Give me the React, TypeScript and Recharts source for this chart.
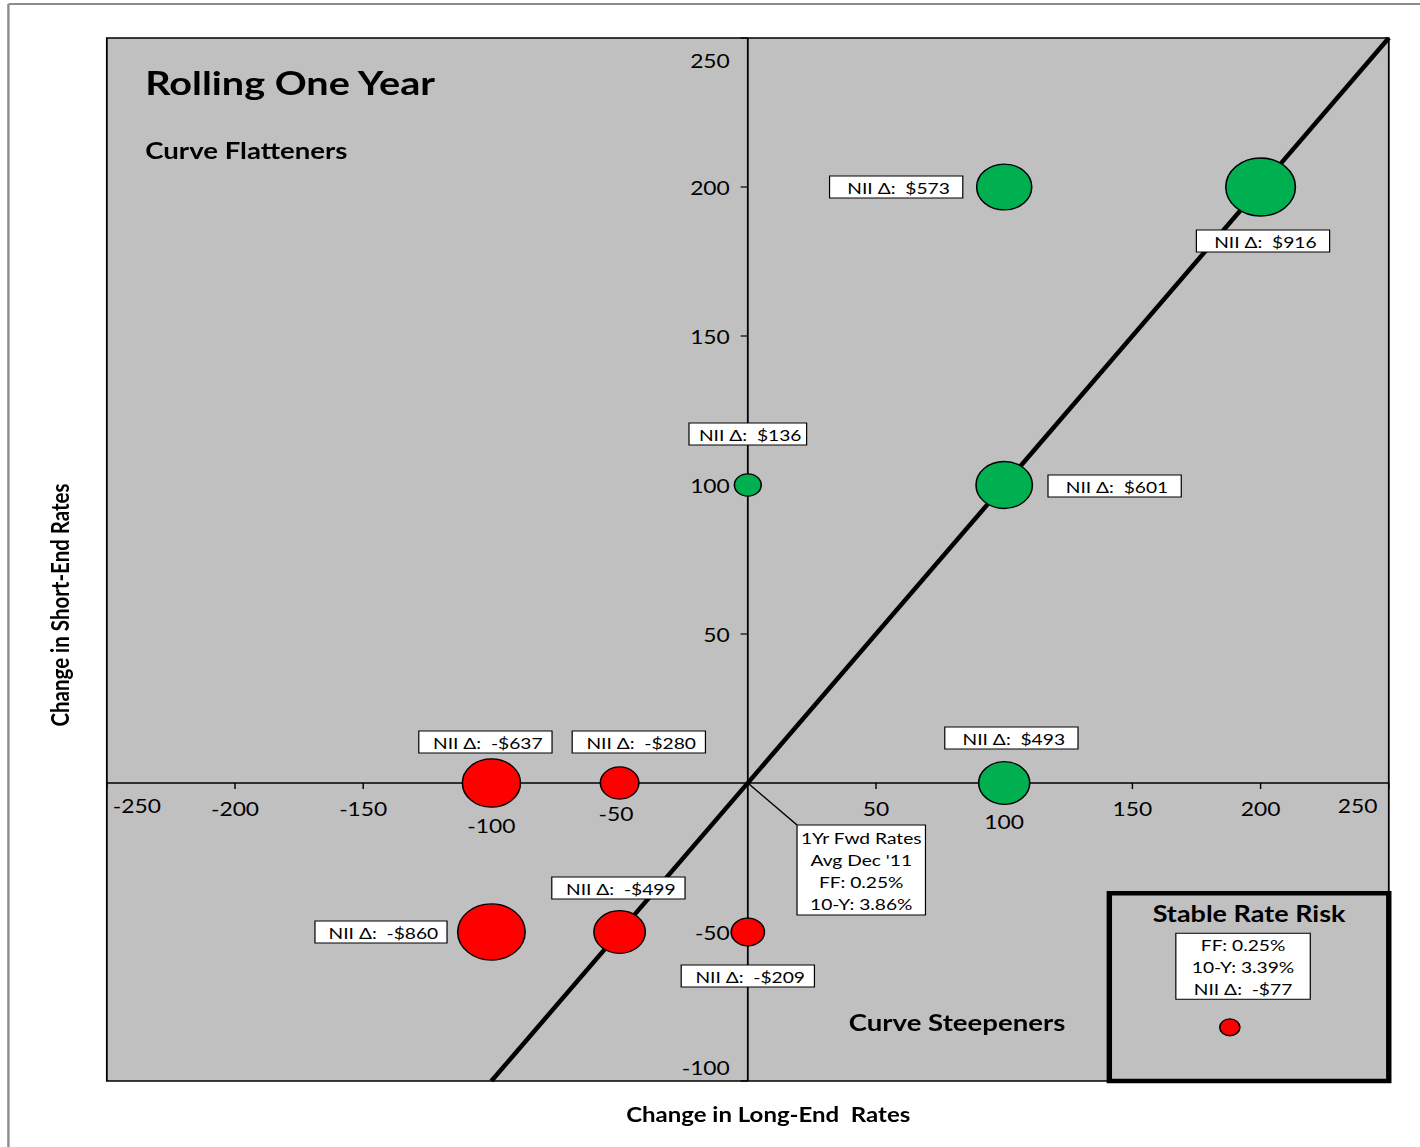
import React from 'react';
import {
  ScatterChart,
  Scatter,
  XAxis,
  YAxis,
  ZAxis,
  CartesianGrid,
  ReferenceLine,
  ReferenceDot,
  ReferenceArea,
} from 'recharts';

// scenario shifts (bp) and resulting NII change ($)
const longEndChange = [100, 200, 0, 100, 100, -100, -50, -100, -50, 0];
const shortEndChange = [200, 200, 100, 100, 0, 0, 0, -50, -50, -50];
const niiDelta = [573, 916, 136, 601, 493, -637, -280, -860, -499, -209];

// stable rate risk marker
const stableLong = [188];
const stableShort = [-82];
const stableNii = [-77];
const stableLines = ['FF: 0.25%', '10-Y: 3.39%', 'NII Δ:  -$77'];

const fwdLines = ['1Yr Fwd Rates', "Avg Dec '11", 'FF: 0.25%', '10-Y: 3.86%'];

const xTicks = [-250, -200, -150, -100, -50, 50, 100, 150, 200, 250];
const yTicks = [-100, -50, 50, 100, 150, 200, 250];
const parityEnds = [-100, 250];

// label placement (px from bubble centre), same order as niiDelta
const labelOffsets = [
  [-90, 0], [2, 54], [0, -51], [92, 1], [6, -45],
  [-5, -41], [16, -41], [-92, 0], [-1, -44], [0, 44],
];
const labelWidths = [111, 111, 98, 111, 111, 111, 111, 110, 111, 111];
const xTickNudge: Record<number, [number, number]> = {
  '-250': [25, -3], '250': [-26, -3], '-100': [0, 17], '-50': [-3, 5], '100': [0, 13],
} as any;
const yTickNudge: Record<number, number> = { '250': 22, '-100': -14 } as any;

const W = 1183;
const H = 1147;
const FONT = 'Lato, Carlito, Calibri, sans-serif';

const money = (v: number) => `${v < 0 ? '-$' : '$'}${Math.abs(v)}`;

const points = niiDelta.map((v, i) => ({
  x: longEndChange[i],
  y: shortEndChange[i],
  size: Math.abs(v),
  nii: v,
  i,
}));
const gains = points.filter(p => p.nii > 0);
const losses = points.filter(p => p.nii < 0);
const stable = stableNii.map((v, i) => ({ x: stableLong[i], y: stableShort[i], size: Math.abs(v), nii: v }));

const makeBubble = (fill: string, withLabel: boolean) => (p: any) => {
  const r = p.width ? p.width / 2 : Math.sqrt((p.size ?? 64) / Math.PI);
  const idx = p.payload?.i ?? p.i;
  const nii = p.payload?.nii ?? p.nii;
  let label = null;
  if (withLabel && idx !== undefined) {
    const [dx, dy] = labelOffsets[idx];
    const bw = labelWidths[idx];
    const bx = p.cx + dx;
    const by = p.cy + dy;
    label = (
      <g>
        <rect x={bx - bw / 2} y={by - 11} width={bw} height={22} fill="#fff" stroke="#000" strokeWidth={1} />
        <text
          x={bx + 2}
          y={by + 1}
          textAnchor="middle"
          dominantBaseline="central"
          fontSize={16}
          fontFamily={FONT}
          fill="#000"
          style={{ whiteSpace: 'pre' }}
        >
          {`NII Δ:  ${money(nii)}`}
        </text>
      </g>
    );
  }
  return (
    <g>
      <circle cx={p.cx} cy={p.cy} r={r} fill={fill} stroke="#000" strokeWidth={1.3} />
      {label}
    </g>
  );
};

const xTickShape = (v: number) => (p: any) => {
  const [nx, ny] = xTickNudge[v] ?? [0, 0];
  return (
    <g>
      <line x1={p.cx} y1={p.cy} x2={p.cx} y2={p.cy + 6} stroke="#000" strokeWidth={1.2} />
      <text x={p.cx + nx} y={p.cy + 25 + ny} textAnchor="middle" dominantBaseline="central" fontSize={19} fontFamily={FONT} fill="#000">
        {v}
      </text>
    </g>
  );
};

const yTickShape = (v: number) => (p: any) => (
  <g>
    <line x1={p.cx - 6} y1={p.cy} x2={p.cx} y2={p.cy} stroke="#000" strokeWidth={1.2} />
    <text x={p.cx - 15} y={p.cy + (yTickNudge[v] ?? 0)} textAnchor="end" dominantBaseline="central" fontSize={19} fontFamily={FONT} fill="#000">
      {v}
    </text>
  </g>
);

const fwdShape = (p: any) => {
  const bx = p.cx + 41;
  const by = p.cy + 42;
  return (
    <g>
      <line x1={p.cx} y1={p.cy} x2={bx} y2={by} stroke="#000" strokeWidth={1.2} />
      <rect x={bx} y={by} width={107} height={90} fill="#fff" stroke="#000" strokeWidth={1} />
      {fwdLines.map((t, k) => (
        <text key={t} x={bx + 53.5} y={by + 13 + 22 * k} textAnchor="middle" dominantBaseline="central" fontSize={16} fontFamily={FONT} fill="#000">
          {t}
        </text>
      ))}
    </g>
  );
};

const stableShape = (p: any) => {
  const cx = p.x + p.width / 2;
  return (
    <g>
      <rect x={p.x} y={p.y} width={p.width} height={p.height} fill="none" stroke="#000" strokeWidth={4.5} />
      <text x={cx} y={p.y + 20} textAnchor="middle" dominantBaseline="central" fontSize={22.5} fontWeight="bold" fontFamily={FONT} fill="#000">
        Stable Rate Risk
      </text>
      <rect x={cx - 5 - 56} y={p.y + 40} width={112} height={66} fill="#fff" stroke="#000" strokeWidth={1} />
      {stableLines.map((t, k) => (
        <text key={t} x={cx - 5} y={p.y + 52 + 22 * k} textAnchor="middle" dominantBaseline="central" fontSize={16} fontFamily={FONT} fill="#000" style={{ whiteSpace: 'pre' }}>
          {t}
        </text>
      ))}
    </g>
  );
};

export default function App() {
  return (
    <div style={{ position: 'absolute', left: 0, top: 0, width: 1420, height: H, overflow: 'hidden', background: '#fff' }}>
      <div
        style={{
          position: 'absolute',
          left: 0,
          top: 0,
          width: W,
          height: H,
          transform: `scaleX(${1420 / W})`,
          transformOrigin: '0 0',
        }}
      >
        <ScatterChart width={W} height={H} margin={{ top: 38, right: 26, bottom: 66, left: 89 }}>
          <CartesianGrid horizontal={false} vertical={false} fill="#C0C0C0" />
          <XAxis type="number" dataKey="x" domain={[-250, 250]} allowDataOverflow hide />
          <YAxis type="number" dataKey="y" domain={[-100, 250]} allowDataOverflow hide />
          <ZAxis type="number" dataKey="size" domain={[0, 916]} range={[0, Math.PI * 29 * 29]} />
          <ReferenceArea x1={-250} x2={250} y1={-100} y2={250} fill="none" fillOpacity={0} stroke="#000" strokeWidth={1.5} />
          <ReferenceLine x={0} stroke="#000" strokeWidth={1.5} />
          <ReferenceLine y={0} stroke="#000" strokeWidth={1.5} />
          <ReferenceLine
            segment={[{ x: parityEnds[0], y: parityEnds[0] }, { x: parityEnds[1], y: parityEnds[1] }]}
            stroke="#000"
            strokeWidth={4}
          />
          {xTicks.map(v => (
            <ReferenceDot key={`x${v}`} x={v} y={0} r={0} ifOverflow="visible" shape={xTickShape(v)} />
          ))}
          {yTicks.map(v => (
            <ReferenceDot key={`y${v}`} x={0} y={v} r={0} ifOverflow="visible" shape={yTickShape(v)} />
          ))}
          <ReferenceDot x={0} y={0} r={0} ifOverflow="visible" shape={fwdShape} />
          <ReferenceArea x1={141} x2={250} y1={-100} y2={-37} ifOverflow="visible" shape={stableShape} />
          <Scatter data={gains} fill="#00B050" shape={makeBubble('#00B050', true)} isAnimationActive={false} />
          <Scatter data={losses} fill="#FF0000" shape={makeBubble('#FF0000', true)} isAnimationActive={false} />
          <Scatter data={stable} fill="#FF0000" shape={makeBubble('#FF0000', false)} isAnimationActive={false} />
        </ScatterChart>
        <svg width={W} height={H} style={{ position: 'absolute', left: 0, top: 0, pointerEvents: 'none' }}>
          <line x1={7} y1={4} x2={W} y2={4} stroke="#8c8c8c" strokeWidth={2} />
          <line x1={7} y1={4} x2={7} y2={H} stroke="#8c8c8c" strokeWidth={2} />
          <text x={121} y={82} dominantBaseline="central" fontSize={33} fontWeight="bold" fontFamily={FONT} fill="#000">
            Rolling One Year
          </text>
          <text x={121} y={150} dominantBaseline="central" fontSize={23} fontWeight="bold" fontFamily={FONT} fill="#000">
            Curve Flatteners
          </text>
          <text x={707} y={1022} dominantBaseline="central" fontSize={23} fontWeight="bold" fontFamily={FONT} fill="#000">
            Curve Steepeners
          </text>
          <text x={640} y={1114} textAnchor="middle" dominantBaseline="central" fontSize={20} fontWeight="bold" fontFamily={FONT} fill="#000" style={{ whiteSpace: 'pre' }}>
            {'Change in Long-End  Rates'}
          </text>
          <text
            x={50}
            y={605}
            textAnchor="middle"
            dominantBaseline="central"
            fontSize={20.5}
            fontWeight="bold"
            fontFamily={FONT}
            fill="#000"
            transform="rotate(-90 50 605)"
          >
            Change in Short-End Rates
          </text>
        </svg>
      </div>
    </div>
  );
}
